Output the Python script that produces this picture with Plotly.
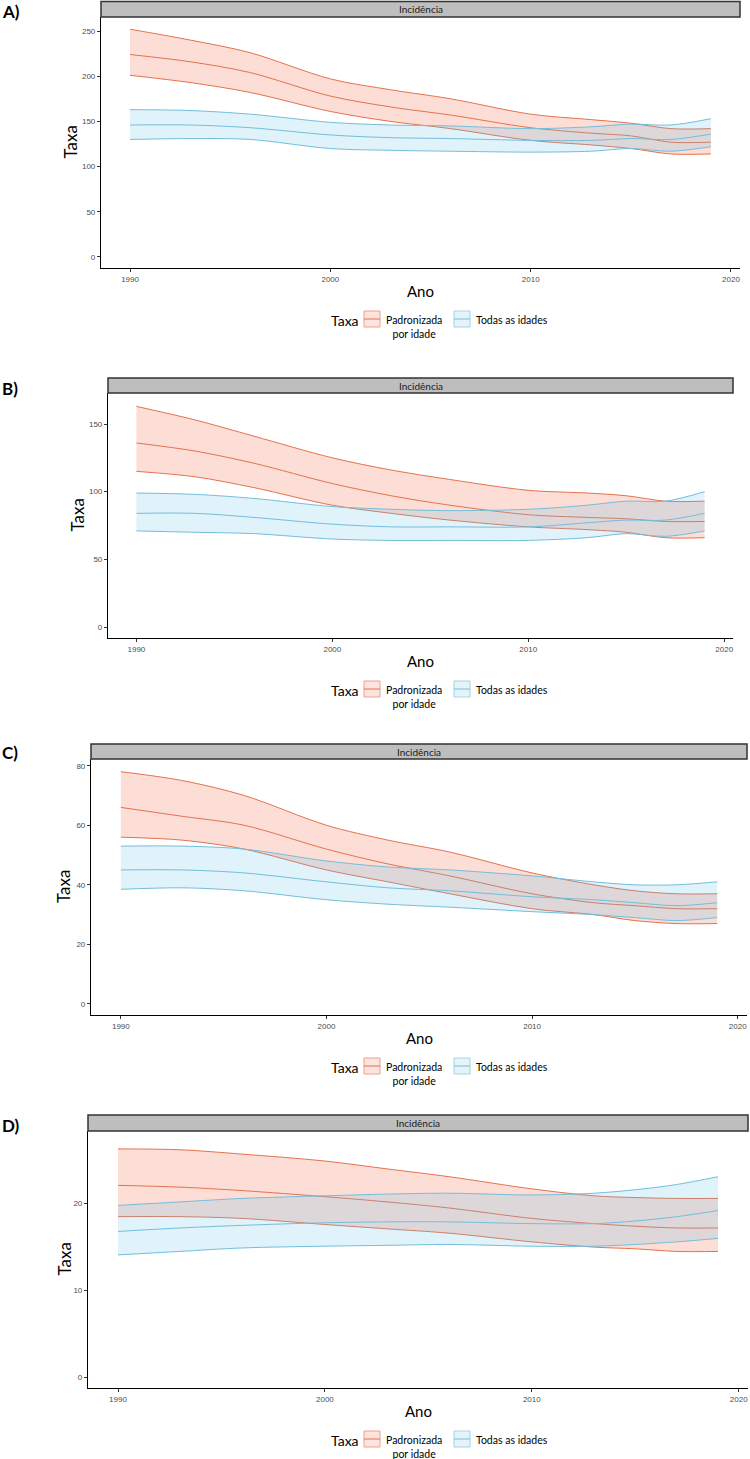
import plotly.graph_objects as go

# anos
anos = [1990, 1993, 1996, 2000, 2003, 2006, 2010, 2013, 2015, 2017, 2019]

# A) taxa padronizada por idade (laranja) e todas as idades (azul)
a_pad_sup = [252, 240, 226, 197, 185, 175, 158, 152, 148, 142, 142]
a_pad_med = [224, 216, 204, 178, 166, 157, 143, 137, 134, 127, 127]
a_pad_inf = [201, 193, 182, 161, 150, 142, 129, 124, 120, 114, 114]
a_tod_sup = [163, 162, 158, 149, 146, 145, 142, 144, 147, 146, 153]
a_tod_med = [146, 146, 143, 135, 132, 131, 129, 129, 131, 130, 136]
a_tod_inf = [130, 131, 130, 120, 118, 117, 116, 117, 120, 117, 122]

# B)
b_pad_sup = [163, 153, 141, 125, 116, 109, 101, 99, 97, 93, 93]
b_pad_med = [136, 130, 121, 106, 97, 90, 83, 81, 80, 78, 78]
b_pad_inf = [115, 111, 103, 90, 84, 79, 74, 72, 70, 66, 66]
b_tod_sup = [99, 98, 95, 89, 87, 86, 87, 90, 93, 93, 100]
b_tod_med = [84, 84, 81, 76, 74, 74, 74, 77, 79, 79, 84]
b_tod_inf = [71, 70, 69, 65, 64, 64, 64, 66, 69, 67, 71]

# C)
c_pad_sup = [78, 75, 70, 60, 55, 51, 44, 40, 38, 37, 37]
c_pad_med = [66, 63, 60, 52, 47, 43, 37, 34, 33, 32, 32]
c_pad_inf = [56, 55, 52, 45, 41, 37, 32, 30, 28, 27, 27]
c_tod_sup = [53, 53, 52, 48, 46, 45, 43, 41, 40, 40, 41]
c_tod_med = [45, 45, 44, 41, 39, 38, 36, 35, 34, 33, 34]
c_tod_inf = [38.5, 39, 38, 35, 33.5, 32.5, 31, 30, 29, 28, 29]

# D)
d_pad_sup = [26.3, 26.2, 25.7, 24.9, 24.0, 23.1, 21.7, 20.9, 20.7, 20.6, 20.6]
d_pad_med = [22.1, 21.9, 21.5, 20.8, 20.2, 19.5, 18.3, 17.7, 17.4, 17.2, 17.2]
d_pad_inf = [18.5, 18.5, 18.3, 17.6, 17.1, 16.6, 15.6, 15.0, 14.8, 14.5, 14.5]
d_tod_sup = [19.8, 20.2, 20.6, 20.9, 21.1, 21.2, 21.0, 21.2, 21.6, 22.2, 23.1]
d_tod_med = [16.8, 17.2, 17.5, 17.8, 17.9, 17.9, 17.7, 17.7, 18.0, 18.5, 19.2]
d_tod_inf = [14.1, 14.5, 14.9, 15.1, 15.2, 15.3, 15.1, 15.1, 15.3, 15.6, 16.0]

ticks_x = [1990, 2000, 2010, 2020]
ticks_a = [0, 50, 100, 150, 200, 250]
ticks_b = [0, 50, 100, 150]
ticks_c = [0, 20, 40, 60, 80]
ticks_d = [0, 10, 20]

W, H = 750, 1459
FONTE = "Lato, Roboto, sans-serif"
FONTE_TICK = "Liberation Sans, Arial, sans-serif"

cor_pad = "#E4724F"
cor_tod = "#74BEDB"
fill_pad = "rgba(248,125,90,0.25)"
fill_tod = "rgba(100,190,230,0.20)"

def fx(p):
    return p / W

def fy(p):
    return 1 - p / H

def texto(txt, x, y, size, **kw):
    d = dict(text=txt, x=fx(x), y=fy(y), xref="paper", yref="paper", showarrow=False,
             xanchor="center", yanchor="middle", font=dict(family=FONTE, size=size, color="black"))
    d.update(kw)
    return d

paineis = [
    dict(rot="A)", rot_y=11, x0=101, x1=740, st=1.5, top=17, bot=268, yr=[-12.2, 265.5],
         yt=ticks_a, tx=70,
         dados=[a_pad_inf, a_pad_sup, a_pad_med, a_tod_inf, a_tod_sup, a_tod_med]),
    dict(rot="B)", rot_y=388, x0=108, x1=733, st=378, top=393, bot=638, yr=[-8.1, 172.9],
         yt=ticks_b, tx=77,
         dados=[b_pad_inf, b_pad_sup, b_pad_med, b_tod_inf, b_tod_sup, b_tod_med]),
    dict(rot="C)", rot_y=752, x0=91, x1=747, st=744, top=759, bot=1015, yr=[-3.7, 82.25],
         yt=ticks_c, tx=63,
         dados=[c_pad_inf, c_pad_sup, c_pad_med, c_tod_inf, c_tod_sup, c_tod_med]),
    dict(rot="D)", rot_y=1125, x0=88, x1=748, st=1115, top=1131, bot=1388, yr=[-1.22, 28.36],
         yt=ticks_d, tx=64,
         dados=[d_pad_inf, d_pad_sup, d_pad_med, d_tod_inf, d_tod_sup, d_tod_med]),
]

fig = go.Figure()
shapes = []
anots = []
layout = {}

for i, p in enumerate(paineis):
    n = "" if i == 0 else str(i + 1)
    xa, ya = "x" + n, "y" + n
    inf_p, sup_p, med_p, inf_t, sup_t, med_t = p["dados"]
    series = [
        (inf_p, cor_pad, None, None), (sup_p, cor_pad, "tonexty", fill_pad), (med_p, cor_pad, None, None),
        (inf_t, cor_tod, None, None), (sup_t, cor_tod, "tonexty", fill_tod), (med_t, cor_tod, None, None),
    ]
    for vals, cor, fill, fc in series:
        fig.add_trace(go.Scatter(x=anos, y=vals, xaxis=xa, yaxis=ya, mode="lines",
                                 line=dict(color=cor, width=1, shape="spline", smoothing=0.9),
                                 fill=fill, fillcolor=fc, showlegend=False, hoverinfo="skip"))

    layout["xaxis" + n] = dict(domain=[fx(p["x0"]), fx(p["x1"])], anchor=ya, range=[1988.55, 2020.45],
                               tickvals=ticks_x, ticks="outside", ticklen=3, tickcolor="#333333",
                               showline=True, linecolor="black", linewidth=1.2, showgrid=False,
                               zeroline=False, tickfont=dict(family=FONTE_TICK, size=8, color="#4D4D4D"))
    layout["yaxis" + n] = dict(domain=[fy(p["bot"]), fy(p["top"])], anchor=xa, range=p["yr"],
                               tickvals=p["yt"], ticks="outside", ticklen=3, tickcolor="#333333",
                               showline=True, linecolor="black", linewidth=1.2, showgrid=False,
                               zeroline=False, tickfont=dict(family=FONTE_TICK, size=8, color="#4D4D4D"))

    # faixa "Incidência"
    shapes.append(dict(type="rect", xref="paper", yref="paper", x0=fx(p["x0"]), x1=fx(p["x1"]),
                       y0=fy(p["top"]), y1=fy(p["st"]), fillcolor="#BEBEBE",
                       line=dict(color="#333333", width=1.5), layer="above"))
    cx = (p["x0"] + p["x1"]) / 2
    anots.append(texto("Incidência", cx, (p["top"] + p["st"]) / 2, 10,
                       font=dict(family=FONTE, size=10, color="#1A1A1A")))
    anots.append(texto("<b>" + p["rot"] + "</b>", 0, p["rot_y"], 17, xanchor="left"))
    anots.append(texto("Taxa", p["tx"], (p["top"] + p["bot"]) / 2, 17, textangle=-90))
    anots.append(texto("Ano", cx, p["bot"] + 23, 15))

    # legenda
    ly = p["bot"] + 51
    anots.append(texto("Taxa", 345, ly + 1, 14))
    for bx0, cor, fc, txt, tx in [(364, cor_pad, fill_pad, "Padronizada<br>por idade", 384),
                                 (454, cor_tod, fill_tod, "Todas as idades", 474)]:
        shapes.append(dict(type="rect", xref="paper", yref="paper", x0=fx(bx0), x1=fx(bx0 + 16),
                           y0=fy(ly + 8), y1=fy(ly - 8), fillcolor=fc, line=dict(color=cor, width=0.8),
                           opacity=0.8))
        shapes.append(dict(type="line", xref="paper", yref="paper", x0=fx(bx0), x1=fx(bx0 + 16),
                           y0=fy(ly), y1=fy(ly), line=dict(color=cor, width=1)))
        anots.append(texto(txt, tx, ly - 7, 10.5, xanchor="left", yanchor="top", align="center"))

fig.update_layout(width=W, height=H, margin=dict(l=0, r=0, t=0, b=0),
                  plot_bgcolor="white", paper_bgcolor="white",
                  shapes=shapes, annotations=anots, **layout)

# tira a margem padrao do <body> para a figura ocupar a janela toda
fig.write_html("out.html", config={"displayModeBar": False},
               post_script="document.body.style.margin='0';")
